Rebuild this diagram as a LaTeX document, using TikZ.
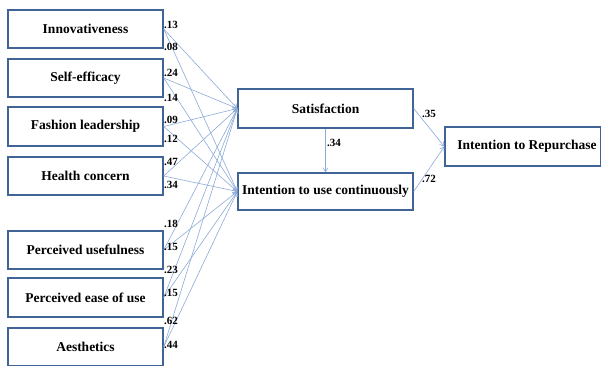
\documentclass[tikz,border=0pt]{standalone}
\usepackage{fontspec}
\setmainfont{Liberation Serif}
\usetikzlibrary{arrows.meta}
\definecolor{boxblue}{RGB}{65,100,150}
\definecolor{lineblue}{RGB}{140,170,215}
\tikzset{
  varbox/.style={draw=boxblue, line width=1.4pt, fill=white, minimum height=38pt, inner sep=0pt,
    font=\fontsize{13.5}{16}\selectfont\bfseries},
  leftbox/.style={varbox, minimum width=155pt},
  midbox/.style={varbox, minimum width=175pt},
  conn/.style={draw=lineblue, line width=0.6pt, -{Straight Barb[length=4pt,width=5pt]}},
  coef/.style={font=\fontsize{11}{13}\selectfont\bfseries, inner sep=0pt, anchor=west},
}
\begin{document}
\begin{tikzpicture}[x=1pt,y=-1pt]
\useasboundingbox (0,0) rectangle (601,365);
\begin{scope}
\clip (0,0) rectangle (601,365);
% left boxes
\node[leftbox] (inn) at (85.5,29) {Innovativeness};
\node[leftbox] (self) at (85.5,78) {Self-efficacy};
\node[leftbox, minimum height=39pt] (fash) at (85.5,126.5) {Fashion leadership};
\node[leftbox] (health) at (85.5,176) {Health concern};
\node[leftbox] (pu) at (85.5,250) {Perceived usefulness};
\node[leftbox, minimum height=39pt] (peou) at (85.5,297.5) {Perceived ease of use};
\node[leftbox] (aes) at (85.5,347) {Aesthetics};
% middle boxes
\node[midbox, minimum height=39pt] (sat) at (325.5,108.5) {Satisfaction};
\node[midbox, minimum height=37pt] (itu) at (325.5,191.5) {Intention to use continuously};
% right box
\node[varbox, minimum width=156pt, minimum height=39pt] (rep) at (523,146.5) {\hspace*{8pt}Intention to Repurchase};
% connectors
\foreach \n in {inn,self,fash,health,pu,peou,aes}{
  \draw[conn] (\n.east) -- (sat.west);
  \draw[conn] (\n.east) -- (itu.west);
}
\draw[conn] (sat.south) -- (itu.north);
\draw[conn] (sat.east) -- (rep.west);
\draw[conn] (itu.east) -- (rep.west);
% coefficients
\node[coef] (c1) at (164,25) {.13};
\node[coef] (c2) at (164,47) {.08};
\node[coef] (c3) at (164,73) {.24};
\node[coef] (c4) at (164,98) {.14};
\node[coef] (c5) at (164,120) {.09};
\node[coef] (c6) at (164,139) {.12};
\node[coef] (c7) at (164,162) {.47};
\node[coef] (c8) at (164,185) {.34};
\node[coef] (c9) at (164,224) {.18};
\node[coef] (c10) at (164,247) {.15};
\node[coef] (c11) at (164,270) {.23};
\node[coef] (c12) at (164,293) {.15};
\node[coef] (c13) at (164,321) {.62};
\node[coef] (c14) at (164,345) {.44};
\node[coef] (c15) at (327,143) {.34};
\node[coef] (c16) at (422,114) {.35};
\node[coef] (c17) at (422,179) {.72};
\end{scope}
\end{tikzpicture}
\end{document}
